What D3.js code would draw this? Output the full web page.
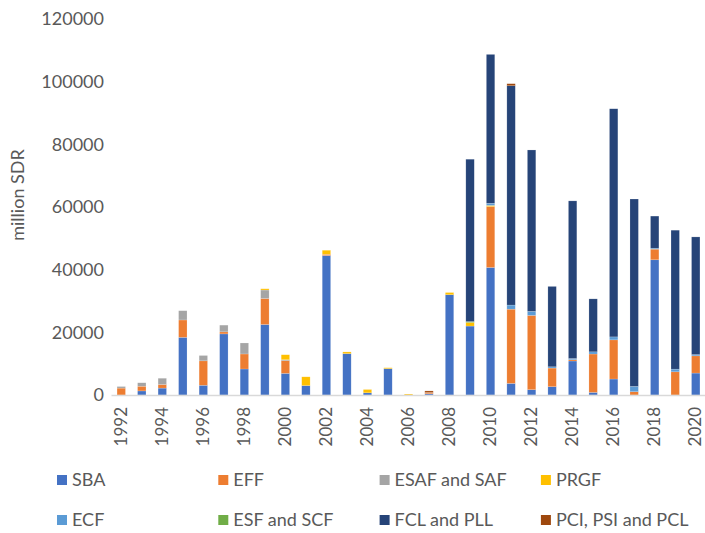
<!DOCTYPE html>
<html>
    <head>
        <title>IMF lending arrangements, million SDR</title>
        <script src="https://d3js.org/d3.v7.min.js"></script>
        <style>
            body { margin: 0; background: #fff; }
            text { font-family: Lato, "Open Sans", sans-serif; fill: #595959; }
        </style>
    </head>
    <body>
        <script>
            const width = 705;
            const height = 533;

            const YEARS = ["1992", "1993", "1994", "1995", "1996", "1997", "1998", "1999", "2000", "2001",
                           "2002", "2003", "2004", "2005", "2006", "2007", "2008", "2009", "2010", "2011",
                           "2012", "2013", "2014", "2015", "2016", "2017", "2018", "2019", "2020"];
            const YEAR_LABELS = YEARS.filter((y, i) => i % 2 == 0);
            const Y_TICKS = [0, 20000, 40000, 60000, 80000, 100000, 120000];

            const SERIES = ["SBA", "EFF", "ESAF and SAF", "PRGF", "ECF", "ESF and SCF", "FCL and PLL", "PCI, PSI and PCL"];
            const COLORS = ["#4472c4", "#ed7d31", "#a5a5a5", "#ffc000", "#5b9bd5", "#70ad47", "#264478", "#9e480e"];

            // values, one per year 1992..2020
            const SBA  = [0, 1300, 2200, 18400, 3100, 19500, 8300, 22500, 6900, 3000,
                          44500, 13200, 700, 8400, 0, 400, 32000, 22000, 40700, 3700,
                          1700, 2650, 10850, 830, 5100, 0, 43150, 0, 7000];
            const EFF  = [2200, 1500, 1150, 5550, 7800, 650, 4800, 8300, 4050, 0,
                          400, 0, 0, 0, 0, 400, 0, 0, 19450, 23700,
                          23700, 5950, 400, 12250, 12500, 1050, 3400, 7400, 5500];
            const ESAF = [500, 1100, 2000, 2950, 1700, 2150, 3500, 2700, 300, 0,
                          0, 0, 0, 0, 0, 0, 0, 0, 0, 0,
                          0, 0, 0, 0, 0, 0, 0, 0, 0];
            const PRGF = [0, 0, 0, 0, 0, 0, 0, 400, 1600, 2800,
                          1300, 550, 1050, 300, 300, 0, 700, 1150, 350, 0,
                          0, 0, 0, 0, 0, 0, 0, 0, 0];
            const ECF  = [0, 0, 0, 0, 0, 0, 0, 0, 0, 0,
                          0, 0, 0, 0, 0, 0, 0, 0, 700, 1300,
                          1300, 400, 400, 700, 950, 1700, 300, 850, 400];
            const ESF  = [0, 0, 0, 0, 0, 0, 0, 0, 0, 0,
                          0, 0, 0, 0, 0, 0, 0, 300, 0, 0,
                          0, 0, 0, 0, 0, 0, 0, 0, 0];
            const FCL  = [0, 0, 0, 0, 0, 0, 0, 0, 0, 0,
                          0, 0, 0, 0, 0, 0, 0, 51800, 47500, 70000,
                          51500, 25650, 50300, 16900, 72800, 59800, 10250, 44350, 37550];
            const PCI  = [0, 0, 0, 0, 0, 0, 0, 0, 0, 0,
                          0, 0, 0, 0, 0, 500, 0, 0, 0, 650,
                          0, 0, 0, 0, 0, 0, 0, 0, 0];

            const VALUES = [SBA, EFF, ESAF, PRGF, ECF, ESF, FCL, PCI];

            const rows = YEARS.map((year, i) => {
                const row = { year: year };
                SERIES.forEach((s, k) => { row[s] = VALUES[k][i]; });
                return row;
            });

            const svg = d3.select("body")
                .append("svg")
                .attr("width", width)
                .attr("height", height);

            const x = d3.scaleBand()
                .domain(YEARS)
                .range([111, 706])
                .paddingInner(0.59)
                .paddingOuter(0.295);

            const y = d3.scaleLinear()
                .domain([0, 120000])
                .range([395, 19]);

            const color = d3.scaleOrdinal()
                .domain(SERIES)
                .range(COLORS);

            // y axis: labels only
            const yAxis = svg.append("g")
                .attr("transform", "translate(104,0)")
                .call(d3.axisLeft(y).tickValues(Y_TICKS).tickSize(0).tickPadding(0).tickFormat(d3.format("d")));
            yAxis.select(".domain").remove();
            yAxis.selectAll("text")
                .style("font-size", "18px")
                .style("font-family", "Lato, sans-serif")
                .attr("fill", "#595959");

            svg.append("text")
                .attr("transform", "translate(24,195) rotate(-90)")
                .attr("text-anchor", "middle")
                .style("font-size", "18px")
                .text("million SDR");

            const stacked = d3.stack().keys(SERIES)(rows);

            svg.append("g")
                .selectAll("g")
                .data(stacked)
                .enter()
                .append("g")
                .attr("fill", d => color(d.key))
                .selectAll("rect")
                .data(d => d.filter(p => p[1] - p[0] > 0))
                .enter()
                .append("rect")
                .attr("x", d => x(d.data.year))
                .attr("y", d => y(d[1]))
                .attr("width", x.bandwidth())
                .attr("height", d => y(d[0]) - y(d[1]))
                .attr("stroke", "#fff")
                .attr("stroke-opacity", 0.35)
                .attr("stroke-width", 0.5);

            // x axis
            const xAxis = svg.append("g")
                .attr("transform", "translate(0,395)")
                .call(d3.axisBottom(x).tickValues(YEAR_LABELS).tickSize(0).tickSizeOuter(0));
            xAxis.select(".domain")
                .attr("stroke", "#d9d9d9")
                .attr("stroke-width", 1.5);
            xAxis.selectAll("text")
                .attr("transform", "rotate(-90)")
                .attr("text-anchor", "end")
                .attr("x", -12)
                .attr("y", 0)
                .attr("dy", "0.32em")
                .style("font-size", "17px")
                .style("font-family", "Lato, sans-serif")
                .attr("fill", "#595959");

            // legend, two rows of four
            const legend = svg.append("g")
                .selectAll("g")
                .data(SERIES)
                .enter()
                .append("g")
                .attr("transform", (d, i) => "translate(" + (57 + (i % 4) * 161.3) + "," + (480 + Math.floor(i / 4) * 40) + ")");

            legend.append("rect")
                .attr("x", 0)
                .attr("y", -5)
                .attr("width", 10)
                .attr("height", 10)
                .attr("fill", d => color(d));

            legend.append("text")
                .attr("x", 15)
                .attr("dy", "0.35em")
                .style("font-size", "18px")
                .text(d => d);
        </script>
    </body>
</html>
